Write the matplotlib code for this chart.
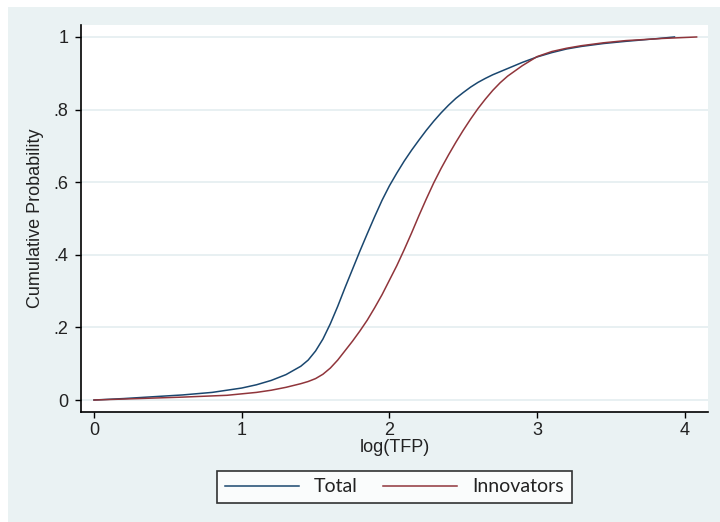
import matplotlib
matplotlib.use("Agg")
import matplotlib.pyplot as plt
from matplotlib.patches import Rectangle

# ---- data ----
total_x = [0, 0.2, 0.4, 0.6, 0.8, 1.0, 1.1, 1.2, 1.3, 1.4, 1.45, 1.5, 1.55, 1.6, 1.65,
           1.7, 1.75, 1.8, 1.85, 1.9, 1.95, 2.0, 2.05, 2.1, 2.15, 2.2, 2.25, 2.3, 2.35,
           2.4, 2.45, 2.5, 2.55, 2.6, 2.65, 2.7, 2.8, 2.9, 3.0, 3.1, 3.2, 3.3, 3.45, 3.6,
           3.8, 3.93]
total_y = [0, 0.004, 0.009, 0.014, 0.021, 0.033, 0.042, 0.054, 0.07, 0.093, 0.11, 0.135,
           0.168, 0.21, 0.258, 0.31, 0.36, 0.41, 0.458, 0.505, 0.55, 0.59, 0.625, 0.658,
           0.688, 0.716, 0.743, 0.768, 0.791, 0.812, 0.831, 0.847, 0.862, 0.875, 0.886,
           0.896, 0.913, 0.93, 0.945, 0.957, 0.967, 0.974, 0.982, 0.988, 0.995, 1.0]

innov_x = [0, 0.3, 0.6, 0.9, 1.0, 1.1, 1.2, 1.3, 1.4, 1.45, 1.5, 1.55, 1.6, 1.65, 1.7,
           1.75, 1.8, 1.85, 1.9, 1.95, 2.0, 2.05, 2.1, 2.15, 2.2, 2.25, 2.3, 2.35, 2.4,
           2.45, 2.5, 2.55, 2.6, 2.65, 2.7, 2.75, 2.8, 2.9, 3.0, 3.1, 3.2, 3.3, 3.45, 3.6,
           3.85, 4.08]
innov_y = [0, 0.004, 0.008, 0.013, 0.017, 0.021, 0.027, 0.035, 0.045, 0.051, 0.059,
           0.071, 0.088, 0.11, 0.136, 0.162, 0.19, 0.22, 0.254, 0.29, 0.33, 0.37, 0.414,
           0.46, 0.508, 0.554, 0.598, 0.638, 0.675, 0.71, 0.743, 0.774, 0.803, 0.829,
           0.853, 0.874, 0.892, 0.921, 0.946, 0.96, 0.969, 0.976, 0.984, 0.99, 0.996, 1.0]

x_ticks = [0, 1, 2, 3, 4]
x_tick_labels = ["0", "1", "2", "3", "4"]
y_ticks = [0, 0.2, 0.4, 0.6, 0.8, 1.0]
y_tick_labels = ["0", ".2", ".4", ".6", ".8", "1"]
series_labels = ["Total", "Innovators"]

# ---- styling ----
BG = "#EAF2F3"
NAVY = "#1A476F"
MAROON = "#90353B"
GRID = "#E4EDF0"

plt.rcParams["font.family"] = ["Liberation Sans", "DejaVu Sans"]

fig = plt.figure(figsize=(7.2, 5.22), dpi=100, facecolor="white")
W, H = 720.0, 522.0
# outer graph region (light bluish gray) with thin white border top/left
fig.patches.append(Rectangle((8 / W, 0), 1 - 8 / W, 1 - 7 / H,
                             transform=fig.transFigure, facecolor=BG,
                             edgecolor="none", zorder=-10))

ax = fig.add_axes([81 / W, 1 - 412 / H, (708 - 81) / W, (412 - 25) / H])
ax.set_zorder(1)
ax.set_facecolor("white")

ax.plot(total_x, total_y, color=NAVY, lw=1.1, label=series_labels[0], zorder=3)
ax.plot(innov_x, innov_y, color=MAROON, lw=1.1, label=series_labels[1], zorder=3)

ax.set_xlim(-0.088, 4.157)
ax.set_ylim(-0.033, 1.033)
ax.set_xticks(x_ticks)
ax.set_xticklabels(x_tick_labels)
ax.set_yticks(y_ticks)
ax.set_yticklabels(y_tick_labels)

for s in ["top", "right"]:
    ax.spines[s].set_visible(False)
for s in ["left", "bottom"]:
    ax.spines[s].set_color("black")
    ax.spines[s].set_linewidth(1.2)

ax.tick_params(axis="both", direction="out", length=4, width=1, colors="black",
               labelsize=13, labelcolor="#222222")
ax.tick_params(axis="x", pad=3)
ax.tick_params(axis="y", pad=5)

ax.grid(axis="y", color=GRID, lw=1.2, zorder=0)
ax.set_axisbelow(True)

ax.set_xlabel("log(TFP)", fontsize=13, labelpad=0, color="#222222")
ax.set_ylabel("Cumulative Probability", fontsize=13, labelpad=7, color="#222222")

leg = fig.legend(loc="center", bbox_to_anchor=(394.5 / W, 1 - 487 / H), ncol=2,
                 frameon=True, fancybox=False, handlelength=3.8, handletextpad=0.8,
                 columnspacing=1.3, borderpad=0.4,
                 prop={"family": ["Lato", "DejaVu Sans"], "size": 14})
leg.set_zorder(2)
leg.get_frame().set_edgecolor("black")
leg.get_frame().set_linewidth(1.2)
leg.get_frame().set_facecolor("white")
for t in leg.get_texts():
    t.set_color("#222222")

fig.savefig("out.png", dpi=100, facecolor=fig.get_facecolor())
